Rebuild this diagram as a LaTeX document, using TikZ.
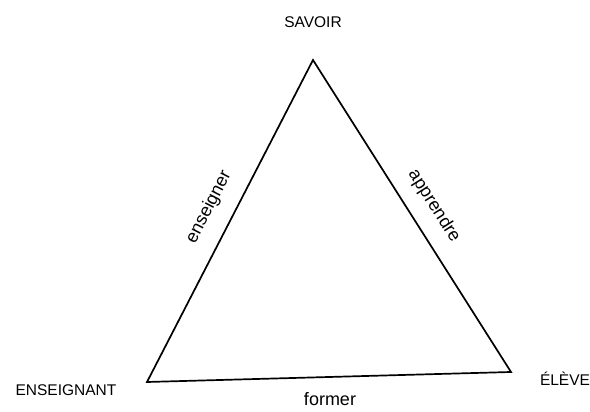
\documentclass[tikz,border=0pt]{standalone}
\usepackage{fontspec}
\setmainfont{Liberation Sans}
\begin{document}
\begin{tikzpicture}[x=1pt,y=1pt,
  edgeline/.style={line width=1.7pt, line join=miter},
  caplabel/.style={font=\fontsize{15.5}{16}\selectfont, inner sep=0pt},
  rel/.style={font=\fontsize{18}{19}\selectfont, inner sep=0pt}]
\useasboundingbox (0,0) rectangle (590,412);
\coordinate (S) at (313,352);
\coordinate (E) at (147,30);
\coordinate (L) at (511,40);
\draw[edgeline] (S) -- (E) -- (L) -- cycle;
\node[caplabel] (savoir) at (313,390) {SAVOIR};
\node[caplabel] (ens) at (66,22) {ENSEIGNANT};
\node[caplabel] (eleve) at (565,33) {ÉLÈVE};
\node[rel, rotate=62.8] (enseigner) at (209,205) {enseigner};
\node[rel, rotate=-57.6] (apprendre) at (434,206) {apprendre};
\node[rel] (former) at (330,13) {former};
\end{tikzpicture}
\end{document}
